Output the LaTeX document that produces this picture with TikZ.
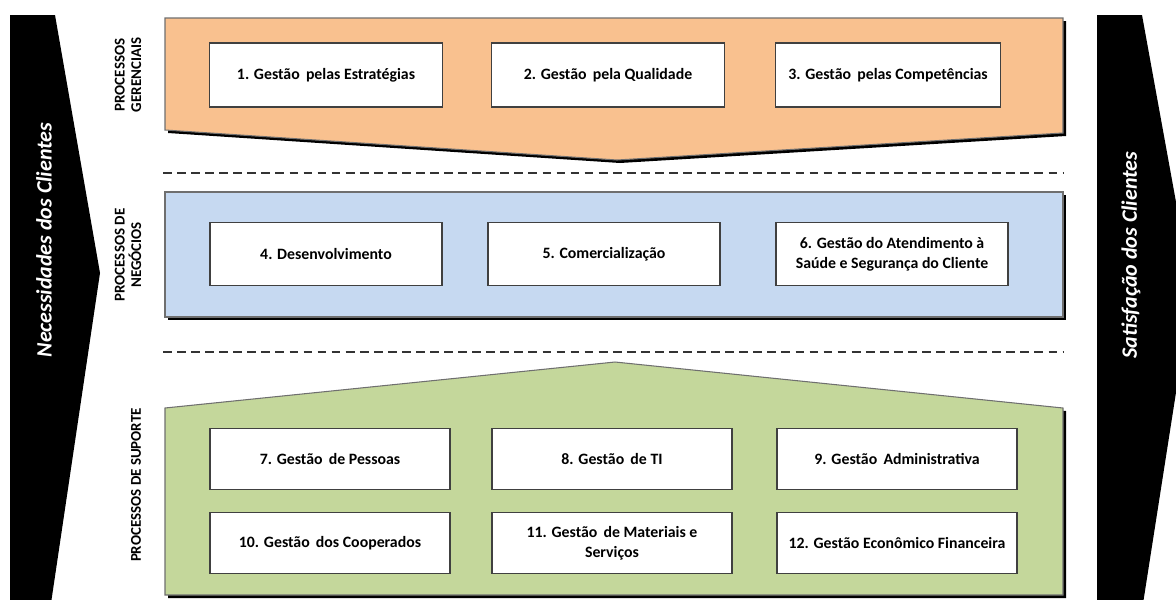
\documentclass[tikz,border=0pt]{standalone}
\usepackage{fontspec}
\setmainfont{Carlito}
\usepackage{xcolor}
\definecolor{GerLaranja}{HTML}{F9C18F}
\definecolor{NegAzul}{HTML}{C6D9F1}
\definecolor{SupVerde}{HTML}{C4D79B}
\definecolor{BordaCinza}{HTML}{6F6F6F}
\usepackage{tikz}
\usetikzlibrary{positioning}

\tikzset{
  processo/.style={draw=black!75,line width=0.8pt,fill=white,align=center,
    font=\fontsize{9}{11.5}\selectfont\bfseries,inner sep=1pt},
  gerbox/.style={processo,minimum width=4.66cm,minimum height=1.28cm},
  negbox/.style={processo,minimum width=4.64cm,minimum height=1.26cm},
  supbox/.style={processo,minimum width=4.8cm,minimum height=1.23cm},
  faixa/.style={draw=BordaCinza,line width=0.6pt},
  sombra/.style={fill=black,shift={(3,3)}},
  rotulo/.style={rotate=90,align=center,font=\fontsize{8.5}{9.5}\selectfont\bfseries},
  cliente/.style={rotate=90,text=white,font=\fontsize{12.5}{15}\selectfont\bfseries\itshape},
  divisa/.style={black!80,line width=0.6pt,dash pattern=on 5pt off 3pt}
}

\begin{document}
\begin{tikzpicture}[x=0.02cm,y=-0.02cm]
\useasboundingbox (0,0) rectangle (1176,599);
\clip (0,0) rectangle (1176,599);

% setas laterais
\fill[black] (10,15) -- (55,15) -- (100,273) -- (50,610) -- (10,610) -- cycle;
\fill[black] (1097,15) -- (1142,15) -- (1192,290) -- (1142,610) -- (1097,610) -- cycle;
\node[cliente] (necessidades) at (44,240) {Necessidades dos Clientes};
\node[cliente] (satisfacao) at (1131,255) {Satisfação dos Clientes};

% processos gerenciais
\fill[sombra] (165,18) -- (1063,18) -- (1063,133) -- (617,160) -- (165,130) -- cycle;
\draw[faixa,fill=GerLaranja] (165,18) -- (1063,18) -- (1063,133) -- (617,160) -- (165,130) -- cycle;
\node[rotulo] (gerenciais) at (128,75) {PROCESSOS\\GERENCIAIS};

\node[gerbox] (estrategias) at (326,75) {1. Gestão\, pelas Estratégias};
\node[gerbox] (qualidade) at (608,75) {2. Gestão\, pela Qualidade};
\node[gerbox,minimum width=4.5cm] (competencias) at (888,75) {3. Gestão\, pelas Competências};

\draw[divisa] (163,173) -- (1063,173);

% processos de negocios
\fill[sombra] (165,192) rectangle (1063,317);
\draw[faixa,fill=NegAzul] (165,192) rectangle (1063,317);
\node[rotulo] (negocios) at (128,255) {PROCESSOS DE\\NEGÓCIOS};

\node[negbox] (desenvolvimento) at (326,254) {4. Desenvolvimento};
\node[negbox] (comercializacao) at (604,254) {5. Comercialização};
\node[negbox] (atendimento) at (892,254) {6. Gestão do Atendimento à\\Saúde e Segurança do Cliente};

\draw[divisa] (163,352) -- (1063,352);

% processos de suporte
\fill[sombra] (165,408) -- (615,362) -- (1063,408) -- (1063,595) -- (165,595) -- cycle;
\draw[faixa,fill=SupVerde] (165,408) -- (615,362) -- (1063,408) -- (1063,595) -- (165,595) -- cycle;
\node[rotulo] (suporte) at (136,485) {PROCESSOS DE SUPORTE};

\node[supbox] (pessoas) at (330,459) {7. Gestão\, de Pessoas};
\node[supbox] (ti) at (612,459) {8. Gestão\, de TI};
\node[supbox] (administrativa) at (897,459) {9. Gestão\, Administrativa};
\node[supbox] (cooperados) at (330,543) {10. Gestão\, dos Cooperados};
\node[supbox] (materiais) at (612,543) {11. Gestão\, de Materiais e\\Serviços};
\node[supbox] (financeira) at (897,543) {12. Gestão Econômico Financeira};

\end{tikzpicture}
\end{document}
